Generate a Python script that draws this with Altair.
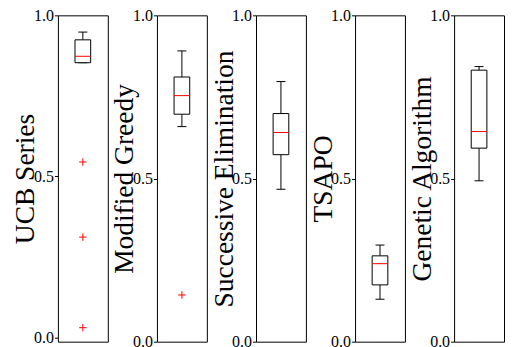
import altair as alt
import pandas as pd

methods = ["UCB Series", "Modified Greedy", "Successive Elimination", "TSAPO", "Genetic Algorithm"]
whisker_low = [0.853, 0.659, 0.467, 0.130, 0.493]
q1 = [0.853, 0.697, 0.573, 0.174, 0.593]
median = [0.873, 0.754, 0.641, 0.239, 0.644]
q3 = [0.924, 0.811, 0.699, 0.263, 0.832]
whisker_high = [0.948, 0.891, 0.797, 0.296, 0.843]
outliers = [[0.545, 0.312, 0.031], [0.143], [], [], []]
y_min = [-0.0124, 0.0, 0.0, 0.0, 0.0]

FONT = "Liberation Serif"
BOX_HALF = 0.157
CAP_HALF = 0.09
PLUS = "M-1,0L1,0M0,-1L0,1"

panels = []
for i, m in enumerate(methods):
    stats = pd.DataFrame({
        "lo": [whisker_low[i]], "q1": [q1[i]], "med": [median[i]],
        "q3": [q3[i]], "hi": [whisker_high[i]],
    })
    xs = alt.Scale(domain=[0, 1])
    ys = alt.Scale(domain=[y_min[i], 1.0], nice=False, zero=False)
    yaxis = alt.Axis(
        values=[0.0, 0.5, 1.0], format=".1f", title=m,
        labelFont=FONT, labelFontSize=16, labelColor="black", labelPadding=1,
        labelFlush=False, tickColor="black", tickSize=3.5, tickWidth=1,
        domain=False, grid=False,
        titleFont=FONT, titleFontSize=27.5, titleFontWeight="normal", titleColor="black",
        titleX=-24, titleBaseline="alphabetic", titleAngle=-90,
    )
    base = alt.Chart(stats).transform_calculate(
        c="0.5", bl=str(0.5 - BOX_HALF), br=str(0.5 + BOX_HALF),
        cl=str(0.5 - CAP_HALF), cr=str(0.5 + CAP_HALF),
    )
    whisk_hi = base.mark_rule(color="black", strokeWidth=1).encode(
        x=alt.X("c:Q", scale=xs, axis=None),
        y=alt.Y("q3:Q", scale=ys, axis=yaxis), y2="hi:Q")
    whisk_lo = base.mark_rule(color="black", strokeWidth=1).encode(
        x=alt.X("c:Q", scale=xs, axis=None),
        y=alt.Y("lo:Q", scale=ys, axis=yaxis), y2="q1:Q")
    cap_hi = base.mark_rule(color="black", strokeWidth=1).encode(
        x=alt.X("cl:Q", scale=xs, axis=None), x2="cr:Q",
        y=alt.Y("hi:Q", scale=ys, axis=yaxis))
    cap_lo = base.mark_rule(color="black", strokeWidth=1).encode(
        x=alt.X("cl:Q", scale=xs, axis=None), x2="cr:Q",
        y=alt.Y("lo:Q", scale=ys, axis=yaxis))
    box = base.mark_rect(fill="white", stroke="black", strokeWidth=1).encode(
        x=alt.X("bl:Q", scale=xs, axis=None), x2="br:Q",
        y=alt.Y("q1:Q", scale=ys, axis=yaxis), y2="q3:Q")
    med = base.mark_rule(color="red", strokeWidth=1).encode(
        x=alt.X("bl:Q", scale=xs, axis=None), x2="br:Q",
        y=alt.Y("med:Q", scale=ys, axis=yaxis))
    layers = [whisk_hi, whisk_lo, cap_hi, cap_lo, box, med]
    if outliers[i]:
        odf = pd.DataFrame({"v": outliers[i]})
        pts = alt.Chart(odf).transform_calculate(c="0.5").mark_point(
            shape=PLUS, filled=False, stroke="red", strokeWidth=1, size=55, opacity=1
        ).encode(
            x=alt.X("c:Q", scale=xs, axis=None),
            y=alt.Y("v:Q", scale=ys, axis=yaxis))
        layers.append(pts)
    panel = alt.layer(*layers).properties(width=50, height=327)
    panels.append(panel)

chart = alt.hconcat(*panels, spacing=49.25, bounds="flush").properties(
    padding={"left": 3, "top": -2, "right": 0, "bottom": 0}
).configure(
    background="white"
).configure_view(
    stroke="black", strokeWidth=1
)

chart.save("out.html", embed_options={"renderer": "svg", "actions": False})
